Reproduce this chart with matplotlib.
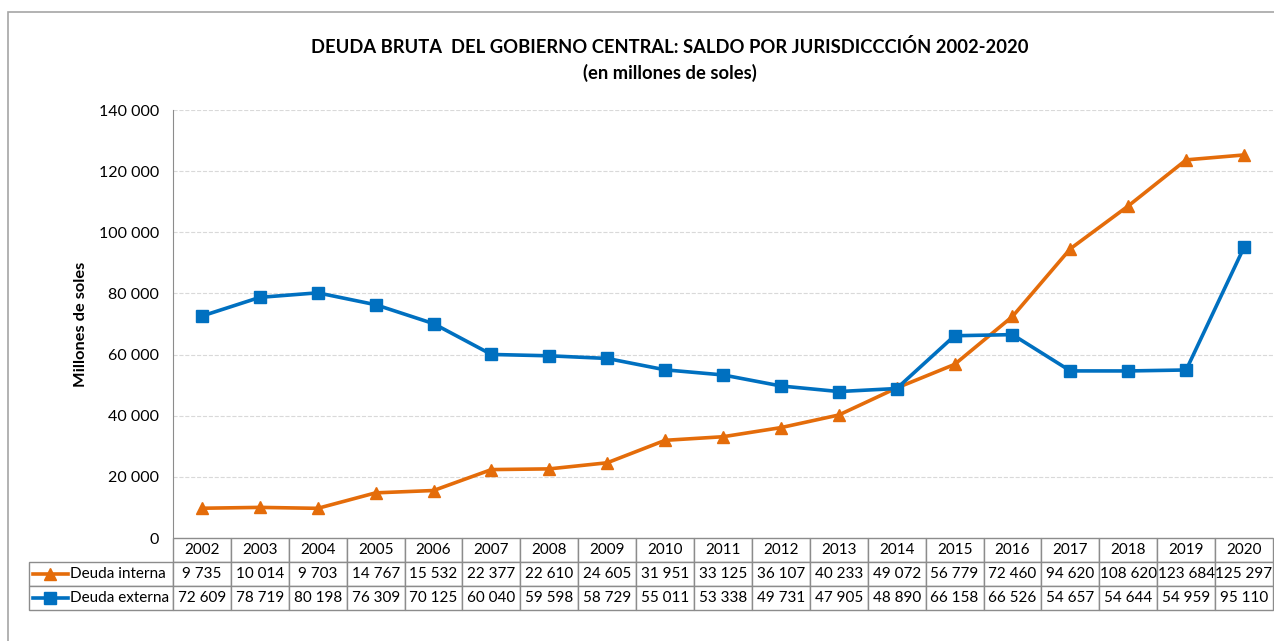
import matplotlib.pyplot as plt
from matplotlib.patches import Rectangle
from matplotlib.lines import Line2D
from matplotlib.ticker import FuncFormatter

plt.rcParams['font.family'] = ['Lato', 'DejaVu Sans']

years = [str(y) for y in range(2002, 2021)]
deuda_interna = [9735, 10014, 9703, 14767, 15532, 22377, 22610, 24605, 31951, 33125,
                 36107, 40233, 49072, 56779, 72460, 94620, 108620, 123684, 125297]
deuda_externa = [72609, 78719, 80198, 76309, 70125, 60040, 59598, 58729, 55011, 53338,
                 49731, 47905, 48890, 66158, 66526, 54657, 54644, 54959, 95110]
series_names = ['Deuda interna', 'Deuda externa']
series_colors = ['#E46C0A', '#0070C0']
series_markers = ['^', 's']

W, H = 1274, 641
fig = plt.figure(figsize=(W / 100, H / 100), dpi=100)

# outer frame of the chart area, runs past the right and bottom edges
fig.patches.append(Rectangle((8 / W, -0.1), 1.0, 1 + 0.1 - 12 / H, transform=fig.transFigure,
                             fill=False, edgecolor='#a6a6a6', linewidth=1.2))

left, right, bottom, top = 173, 1273, 538, 110
ax = fig.add_axes([left / W, 1 - bottom / H, (right - left) / W, (bottom - top) / H])

x = list(range(len(years)))
for vals, name, col, mk in zip([deuda_interna, deuda_externa], series_names, series_colors, series_markers):
    ax.plot(x, vals, color=col, marker=mk, markersize=9, linewidth=2.6, label=name)

ax.set_xlim(-0.5, len(years) - 0.5)
ax.set_ylim(0, 140000)
ax.set_yticks(range(0, 140001, 20000))
ax.yaxis.set_major_formatter(FuncFormatter(lambda v, p: f'{int(v):,}'.replace(',', ' ')))
ax.tick_params(axis='y', length=0, labelsize=11.5, pad=10)
ax.set_xticks([])
ax.grid(axis='y', color='#d9d9d9', linestyle='--', linewidth=0.8)
for s in ['top', 'right', 'bottom']:
    ax.spines[s].set_visible(False)
ax.spines['left'].set_color('#8c8c8c')
ax.set_ylabel('Millones de soles', fontsize=11.8, fontweight='bold', labelpad=8)

fig.text(670 / W, 1 - 47 / H, 'DEUDA BRUTA  DEL GOBIERNO CENTRAL: SALDO POR JURISDICCCIÓN 2002-2020',
         ha='center', va='center', fontsize=13.2, fontweight='bold')
fig.text(670 / W, 1 - 73 / H, '(en millones de soles)', ha='center', va='center',
         fontsize=13.2, fontweight='bold')

# data table below the plot
axw = right - left
axh = bottom - top
lab_w = 144 / axw
tab_h = 72 / axh
col_w = 1.0 / len(years)
cell_text = [[f'{v:,}'.replace(',', ' ') for v in deuda_interna],
             [f'{v:,}'.replace(',', ' ') for v in deuda_externa]]
tab = ax.table(cellText=cell_text, colLabels=years, colWidths=[col_w] * len(years),
               cellLoc='center', bbox=[0, -tab_h, 1, tab_h])
row_cell_h = tab[(0, 0)].get_height()
for r in (1, 2):
    tab.add_cell(r, -1, width=lab_w, height=row_cell_h, text='')
tab.auto_set_font_size(False)
tab.set_fontsize(11)
for cell in tab.get_celld().values():
    cell.set_edgecolor('#8c8c8c')
    cell.set_linewidth(1.0)
    cell.PAD = 0.02

row_h = tab_h / 3
for i, (name, col, mk) in enumerate(zip(series_names, series_colors, series_markers)):
    yc = -row_h * (1.5 + i)
    ax.add_line(Line2D([(33 - left) / axw, (68 - left) / axw], [yc, yc], color=col, linewidth=2.6,
                       transform=ax.transAxes, clip_on=False))
    ax.add_line(Line2D([(50 - left) / axw], [yc], color=col, marker=mk, markersize=8,
                       transform=ax.transAxes, clip_on=False))
    ax.text((70 - left) / axw, yc, name, transform=ax.transAxes, ha='left', va='center', fontsize=11)

fig.savefig('out.png', dpi=100)
